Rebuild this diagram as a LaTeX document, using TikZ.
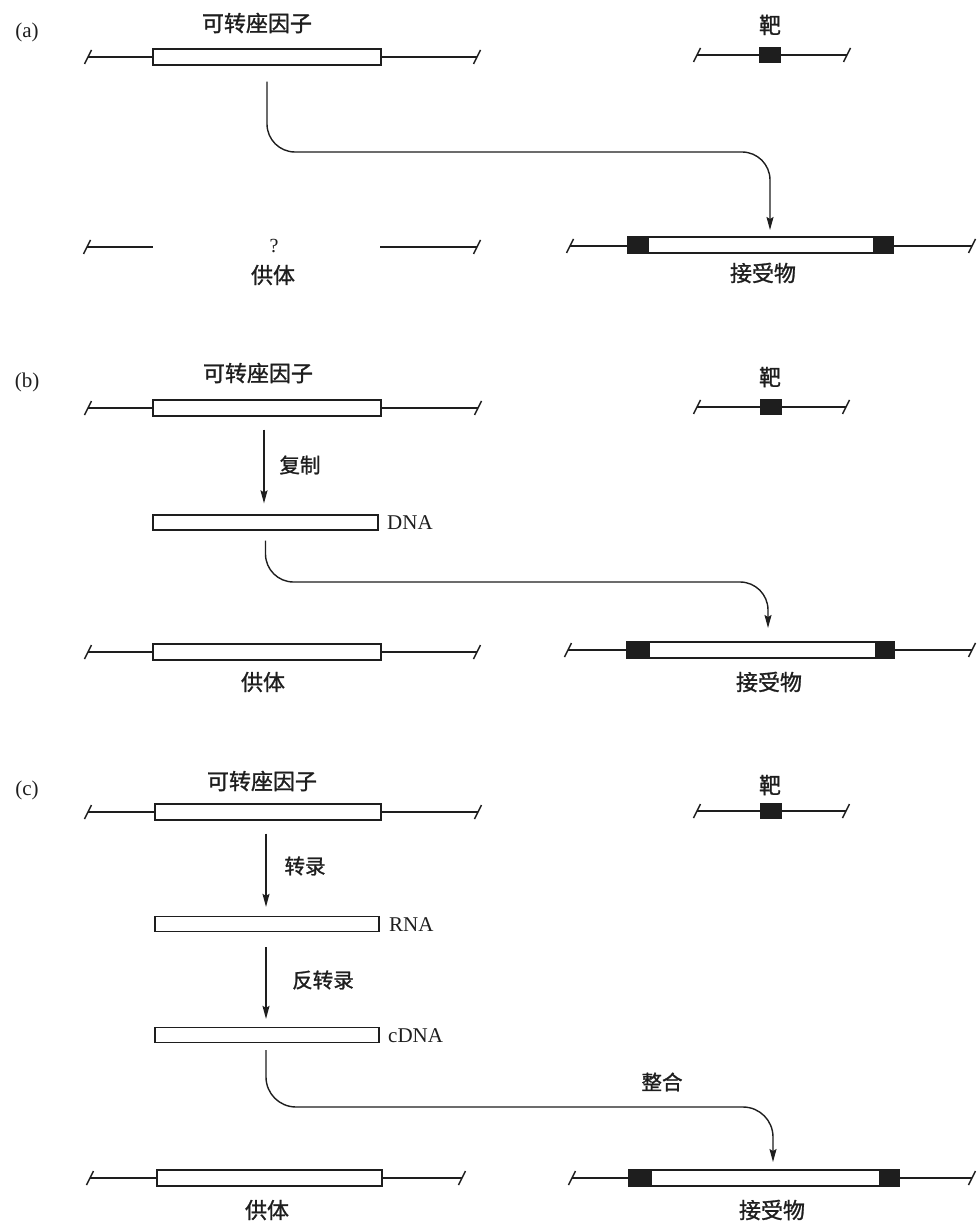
\documentclass[tikz,border=0pt]{standalone}
\usepackage{fontspec}
\setmainfont{Liberation Serif}
\newfontfamily\cjk[FakeBold=1.2]{Noto Sans CJK SC}
\usetikzlibrary{arrows.meta}
\definecolor{ink}{HTML}{1E1E1E}
\newcommand{\chromo}[3]{%
  \draw[dnaline] (#1,#3) -- (#2,#3);
  \draw[dnaline] (#1-3.5,#3+7) -- (#1+3.5,#3-7);
  \draw[dnaline] (#2-3.5,#3+7) -- (#2+3.5,#3-7);}
\tikzset{
  dnaline/.style={draw=ink, line width=1.4pt},
  tebox/.style={draw=ink, fill=white, line width=1.3pt, minimum height=16pt, inner sep=0pt},
  endbox/.style={draw=ink, fill=ink, line width=1pt, minimum height=16pt, inner sep=0pt},
  arr/.style={draw=ink, line width=1.4pt, -{Stealth[length=13pt,width=7pt,inset=2pt]}},
  cjkt/.style={font=\cjk\fontsize{22pt}{24pt}\selectfont, text=ink, inner sep=0pt},
  cjks/.style={font=\cjk\fontsize{20.5pt}{22pt}\selectfont, text=ink, inner sep=0pt},
  lat/.style={font=\fontsize{21pt}{23pt}\selectfont, text=ink, inner sep=0pt},
}
\begin{document}
\begin{tikzpicture}[x=1pt,y=-1pt]
\useasboundingbox[fill=white] (0,0) rectangle (976,1222);

% ================= panel (a) =================
\node[lat] (la) at (27,32) {(a)};
\node[cjkt] (tA) at (257,23) {可转座因子};
\chromo{88}{477}{57}
\node[tebox, minimum width=228pt] (teA) at (267,57) {};
\node[cjkt] (bA) at (770,25) {靶};
\chromo{697}{847}{55}
\node[endbox, minimum width=21pt, minimum height=15pt] (tgA) at (769.5,55) {};
% broken donor
\draw[dnaline] (87,247) -- (153,247);
\draw[dnaline] (87-3.5,247+7) -- (87+3.5,247-7);
\draw[dnaline] (380,247) -- (477,247);
\draw[dnaline] (477-3.5,247+7) -- (477+3.5,247-7);
\node[lat, font=\fontsize{20pt}{22pt}\selectfont] (qA) at (274,246) {?};
\node[cjkt] (dA) at (273,275) {供体};
% acceptor
\chromo{570}{972}{246}
\node[tebox, minimum width=265pt] (accA) at (760.5,245) {};
\node[endbox, minimum width=21pt, anchor=west] (accAl) at (accA.west) {};
\node[endbox, minimum width=20pt, anchor=east] (accAr) at (accA.east) {};
\node[cjkt] (rA) at (763,273) {接受物};
% transposition arrow
\coordinate (sA) at ([yshift=-16pt]teA.south);
\coordinate (hA) at (500,152);
\coordinate (tipA) at (770,230);
\draw[arr, rounded corners=28pt] (sA) |- (hA) -| (tipA);

% ================= panel (b) =================
\node[lat] (lb) at (27,382) {(b)};
\node[cjkt] (tB) at (258,373) {可转座因子};
\chromo{88}{478}{408}
\node[tebox, minimum width=228pt] (teB) at (267,408) {};
\node[cjkt] (bB) at (770,377) {靶};
\chromo{697}{846}{407}
\node[endbox, minimum width=21pt, minimum height=15pt] (tgB) at (770.5,407) {};
% replication
\node[tebox, minimum width=225pt, minimum height=15pt] (dnaB) at (265.5,522.5) {};
\node[lat, anchor=west] (dnaBl) at (387,523) {DNA};
\draw[arr] ([yshift=-13pt]teB.south -| 264,0) -- ([yshift=11pt]dnaB.north -| 264,0);
\node[cjks] (repB) at (300,465) {复制};
% bottom donor
\chromo{88}{477}{652}
\node[tebox, minimum width=228pt] (dB) at (267,652) {};
\node[cjkt] (dBl) at (263,682) {供体};
% acceptor
\chromo{568}{972}{650}
\node[tebox, minimum width=267pt] (accB) at (760.5,650) {};
\node[endbox, minimum width=23pt, anchor=west] (accBl) at (accB.west) {};
\node[endbox, minimum width=19pt, anchor=east] (accBr) at (accB.east) {};
\node[cjkt] (rB) at (769,682) {接受物};
\coordinate (sB) at ([yshift=-10pt]dnaB.south);
\coordinate (hB) at (500,582);
\coordinate (tipB) at (768,628);
\draw[arr, rounded corners=28pt] (sB) |- (hB) -| (tipB);

% ================= panel (c) =================
\node[lat] (lc) at (27,790) {(c)};
\node[cjkt] (tC) at (262,781) {可转座因子};
\chromo{88}{478}{812}
\node[tebox, minimum width=226pt] (teC) at (268,812) {};
\node[cjkt] (bC) at (770,785) {靶};
\chromo{697}{846}{811}
\node[endbox, minimum width=21pt, minimum height=15pt] (tgC) at (770.5,811) {};
% RNA
\node[tebox, minimum width=224pt, minimum height=15pt] (rnaC) at (267,924) {};
\node[lat, anchor=west] (rnaCl) at (389,925) {RNA};
\draw[arr] ([yshift=-13pt]teC.south -| 266,0) -- ([yshift=9pt]rnaC.north -| 266,0);
\node[cjks] (trC) at (305,866) {转录};
% cDNA
\node[tebox, minimum width=224pt, minimum height=15pt] (cdnaC) at (267,1035) {};
\node[lat, anchor=west] (cdnaCl) at (388,1036) {cDNA};
\draw[arr] ([yshift=-15pt]rnaC.south -| 266,0) -- ([yshift=8pt]cdnaC.north -| 266,0);
\node[cjks] (rtC) at (323,980) {反转录};
% bottom donor
\chromo{90}{462}{1178}
\node[tebox, minimum width=225pt] (dC) at (269.5,1178) {};
\node[cjkt] (dCl) at (267,1210) {供体};
% acceptor
\chromo{572}{972}{1178}
\node[tebox, minimum width=270pt] (accC) at (764,1178) {};
\node[endbox, minimum width=23pt, anchor=west] (accCl) at (accC.west) {};
\node[endbox, minimum width=20pt, anchor=east] (accCr) at (accC.east) {};
\node[cjkt] (rC) at (772,1210) {接受物};
\coordinate (sC) at ([yshift=-7pt]cdnaC.south -| 266,0);
\coordinate (hC) at (500,1107);
\coordinate (tipC) at (773,1162);
\draw[arr, rounded corners=30pt] (sC) |- (hC) -| (tipC);
\node[cjks] (intC) at (662,1082) {整合};
\end{tikzpicture}
\end{document}
